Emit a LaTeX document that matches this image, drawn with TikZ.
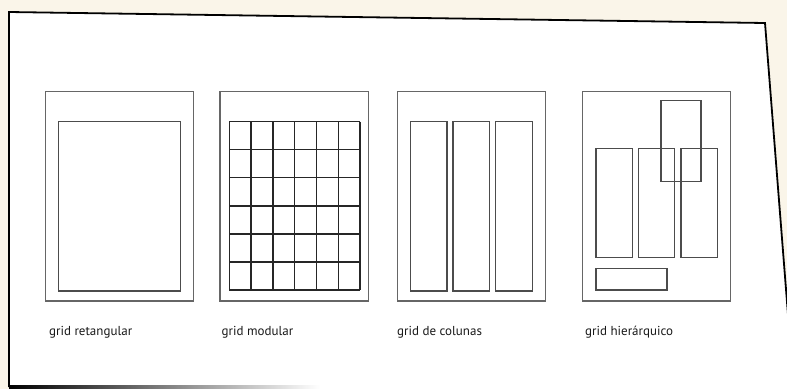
\documentclass[tikz,border=0pt]{standalone}
\usepackage{fontspec}
\setmainfont{PT Sans}

\begin{document}
\begin{tikzpicture}[x=1pt, y=-1pt, every node/.style={font=\fontsize{13}{15}\selectfont},
	page/.style={draw=black!60, line width=1.4pt},
	box/.style={draw=black!70, line width=1.3pt},
	lbl/.style={anchor=base west, inner sep=0pt, text=black!90}]
	\useasboundingbox (0,0) rectangle (787,389);
	\fill[yellow!20!brown!10] (0,0) rectangle (787,389);
	% sheet of paper
	\fill[white] (9,12) -- (765,23) -- (790,340) -- (790,389) -- (9,389) -- cycle;
	\draw[black, line width=1.8pt] (9,387) -- (9,12) -- (765,23) -- (790,340);
	\shade[left color=black, right color=white] (9,385.6) rectangle (320,388.4);
	% grid retangular
	\draw[page] (45.3,91.7) rectangle (193.3,301);
	\draw[box] (58.3,121.7) rectangle (180.3,291);
	\node[lbl] (l1) at (49,335) {grid retangular};
	% grid modular
	\draw[page] (220,91.7) rectangle (368.3,301);
	\foreach \i in {0,...,6}
		\draw[box, draw=black!85] (229.3+\i*21.78,121.7) -- (229.3+\i*21.78,290);
	\foreach \j in {0,...,6}
		\draw[box, draw=black!85] (229.3,121.7+\j*28.05) -- (360,121.7+\j*28.05);
	\node[lbl] (l2) at (221.5,335) {grid modular};
	% grid de colunas
	\draw[page] (397.7,91.7) rectangle (545.3,301);
	\foreach \c in {410.3,453,495.7}
		\draw[box] (\c,121.7) rectangle (\c+36.6,291);
	\node[lbl] (l3) at (397,335) {grid de colunas};
	% grid hierarquico
	\draw[page] (582.7,91.7) rectangle (730.7,301);
	\foreach \c in {596,638.3,681}
		\draw[box] (\c,148.3) rectangle (\c+36.3,257.3);
	\draw[box] (661,100.7) rectangle (701,181.3);
	\draw[box] (596,268.3) rectangle (667,290);
	\node[lbl] (l4) at (585,335) {grid hierárquico};
\end{tikzpicture}
\end{document}
